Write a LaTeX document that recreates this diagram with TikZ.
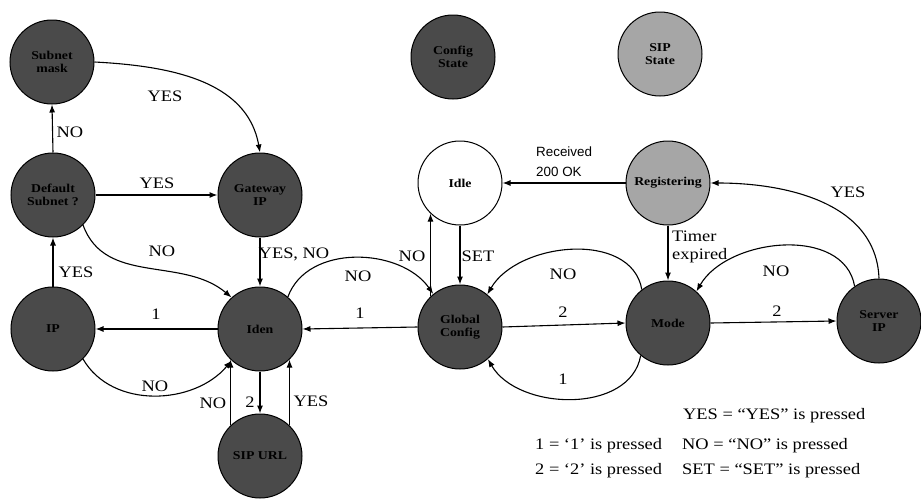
\documentclass[tikz,border=0pt]{standalone}
\usepackage{fontspec}
\setmainfont{Liberation Serif}[FakeStretch=1.15]
\newfontfamily\labelsans{Liberation Sans}
\usetikzlibrary{arrows.meta}

\definecolor{statedark}{HTML}{4A4A4A}
\definecolor{statelight}{HTML}{A6A6A6}

\tikzset{
  state/.style={circle, draw=black, line width=1pt, minimum size=84pt, inner sep=0pt,
    align=center, font=\fontsize{12}{13}\selectfont\bfseries, text=black},
  cfgstate/.style={state, fill=statedark},
  sipstate/.style={state, fill=statelight},
  idlestate/.style={state, fill=white},
  lab/.style={font=\fontsize{16}{18}\selectfont, inner sep=0pt},
  leg/.style={font=\fontsize{16}{18}\selectfont, inner sep=0pt, anchor=west},
  trans/.style={draw=black, line width=1.1pt, -{Latex[length=8pt,width=6pt]}}
}

\begin{document}
\begin{tikzpicture}[x=1pt,y=1pt]
\useasboundingbox (0,0) rectangle (921,-498);

% states
\node[cfgstate] (sm)     at (52,-62)   {Subnet\\mask};
\node[cfgstate] (def)    at (53,-195)  {Default\\Subnet ?};
\node[cfgstate] (gw)     at (260,-195) {Gateway\\IP};
\node[cfgstate] (ip)     at (53,-329)  {IP};
\node[cfgstate] (iden)   at (260,-329) {Iden};
\node[cfgstate] (sipurl) at (260,-456) {SIP URL};
\node[cfgstate] (cfg)    at (453,-57)  {Config\\State};
\node[idlestate] (idle)  at (460,-183) {Idle};
\node[cfgstate] (gc)     at (460,-327) {Global\\Config};
\node[sipstate] (sips)   at (660,-54)  {SIP\\State};
\node[sipstate] (reg)    at (668,-183) {Registering};
\node[cfgstate] (mode)   at (668,-323) {Mode};
\node[cfgstate] (srv)    at (879,-321) {Server\\IP};

% network settings branch
\draw[trans] (def.north) -- (sm.south);
\draw[trans] (sm.east) to[out=-3, in=100] (gw.north);
\draw[trans] (def.east) -- (gw.west);
\draw[trans] (def.-45) to[out=-70, in=140] (iden.132);
\draw[trans] (gw.south) -- (iden.north);
\draw[trans] (ip.north) -- (def.south);
\draw[trans] (iden.west) -- (ip.east);
\draw[trans] (ip.-45) to[out=-60, in=-130] (iden.-132);

% SIP URL
\draw[trans] (iden.south) -- (sipurl.north);
\draw[trans] (sipurl.134) -- (iden.-134);
\draw[trans] (sipurl.46) -- (iden.-46);

% global configuration
\draw[trans] (iden.49) to[out=70, in=125] (gc.129);
\draw[trans] (gc.west) -- (iden.east);
\draw[trans] (gc.134) -- (idle.-134);
\draw[trans] (idle.south) -- (gc.north);
\draw[trans] (gc.east) -- (mode.west);
\draw[trans] (mode.128) to[out=100, in=60] (gc.50);
\draw[trans] (mode.-130) to[out=-100, in=-60] (gc.-49);

% SIP registration
\draw[trans] (reg.west) -- (idle.east);
\draw[trans] (reg.south) -- (mode.north);
\draw[trans] (mode.east) -- (srv.west);
\draw[trans] (srv.north) to[out=92, in=0] (reg.east);
\draw[trans] (srv.125) to[out=100, in=60] (mode.48);

% transition labels
\node[lab] (l01) at (70,-132)  {NO};
\node[lab] (l02) at (165,-96)  {YES};
\node[lab] (l03) at (157,-183) {YES};
\node[lab] (l04) at (162,-251) {NO};
\node[lab] (l05) at (294,-254) {YES, NO};
\node[lab] (l06) at (76,-272)  {YES};
\node[lab] (l07) at (156,-314) {1};
\node[lab] (l08) at (155,-386) {NO};
\node[lab] (l09) at (213,-403) {NO};
\node[lab] (l10) at (250,-402) {2};
\node[lab] (l11) at (311,-401) {YES};
\node[lab] (l12) at (358,-276) {NO};
\node[lab] (l13) at (360,-313) {1};
\node[lab] (l14) at (412,-256) {NO};
\node[lab] (l15) at (478,-256) {SET};
\node[lab] (l16) at (563,-274) {NO};
\node[lab] (l17) at (563,-312) {2};
\node[lab] (l18) at (563,-379) {1};
\node[lab, anchor=west, align=left, font=\labelsans\fontsize{13.4}{20}\selectfont] (l19) at (536,-162) {Received\\200 OK};
\node[lab, anchor=west, align=left] (l20) at (672,-247) {Timer\\expired};
\node[lab] (l21) at (848,-192) {YES};
\node[lab] (l22) at (776,-271) {NO};
\node[lab] (l23) at (777,-311) {2};

% key
\node[leg] (k1) at (683,-416) {YES = “YES” is pressed};
\node[leg] (k2) at (535,-446) {1 = ‘1’ is pressed};
\node[leg] (k3) at (682,-446) {NO = “NO” is pressed};
\node[leg] (k4) at (535,-471) {2 = ‘2’ is pressed};
\node[leg] (k5) at (682,-471) {SET = “SET” is pressed};
\end{tikzpicture}
\end{document}
